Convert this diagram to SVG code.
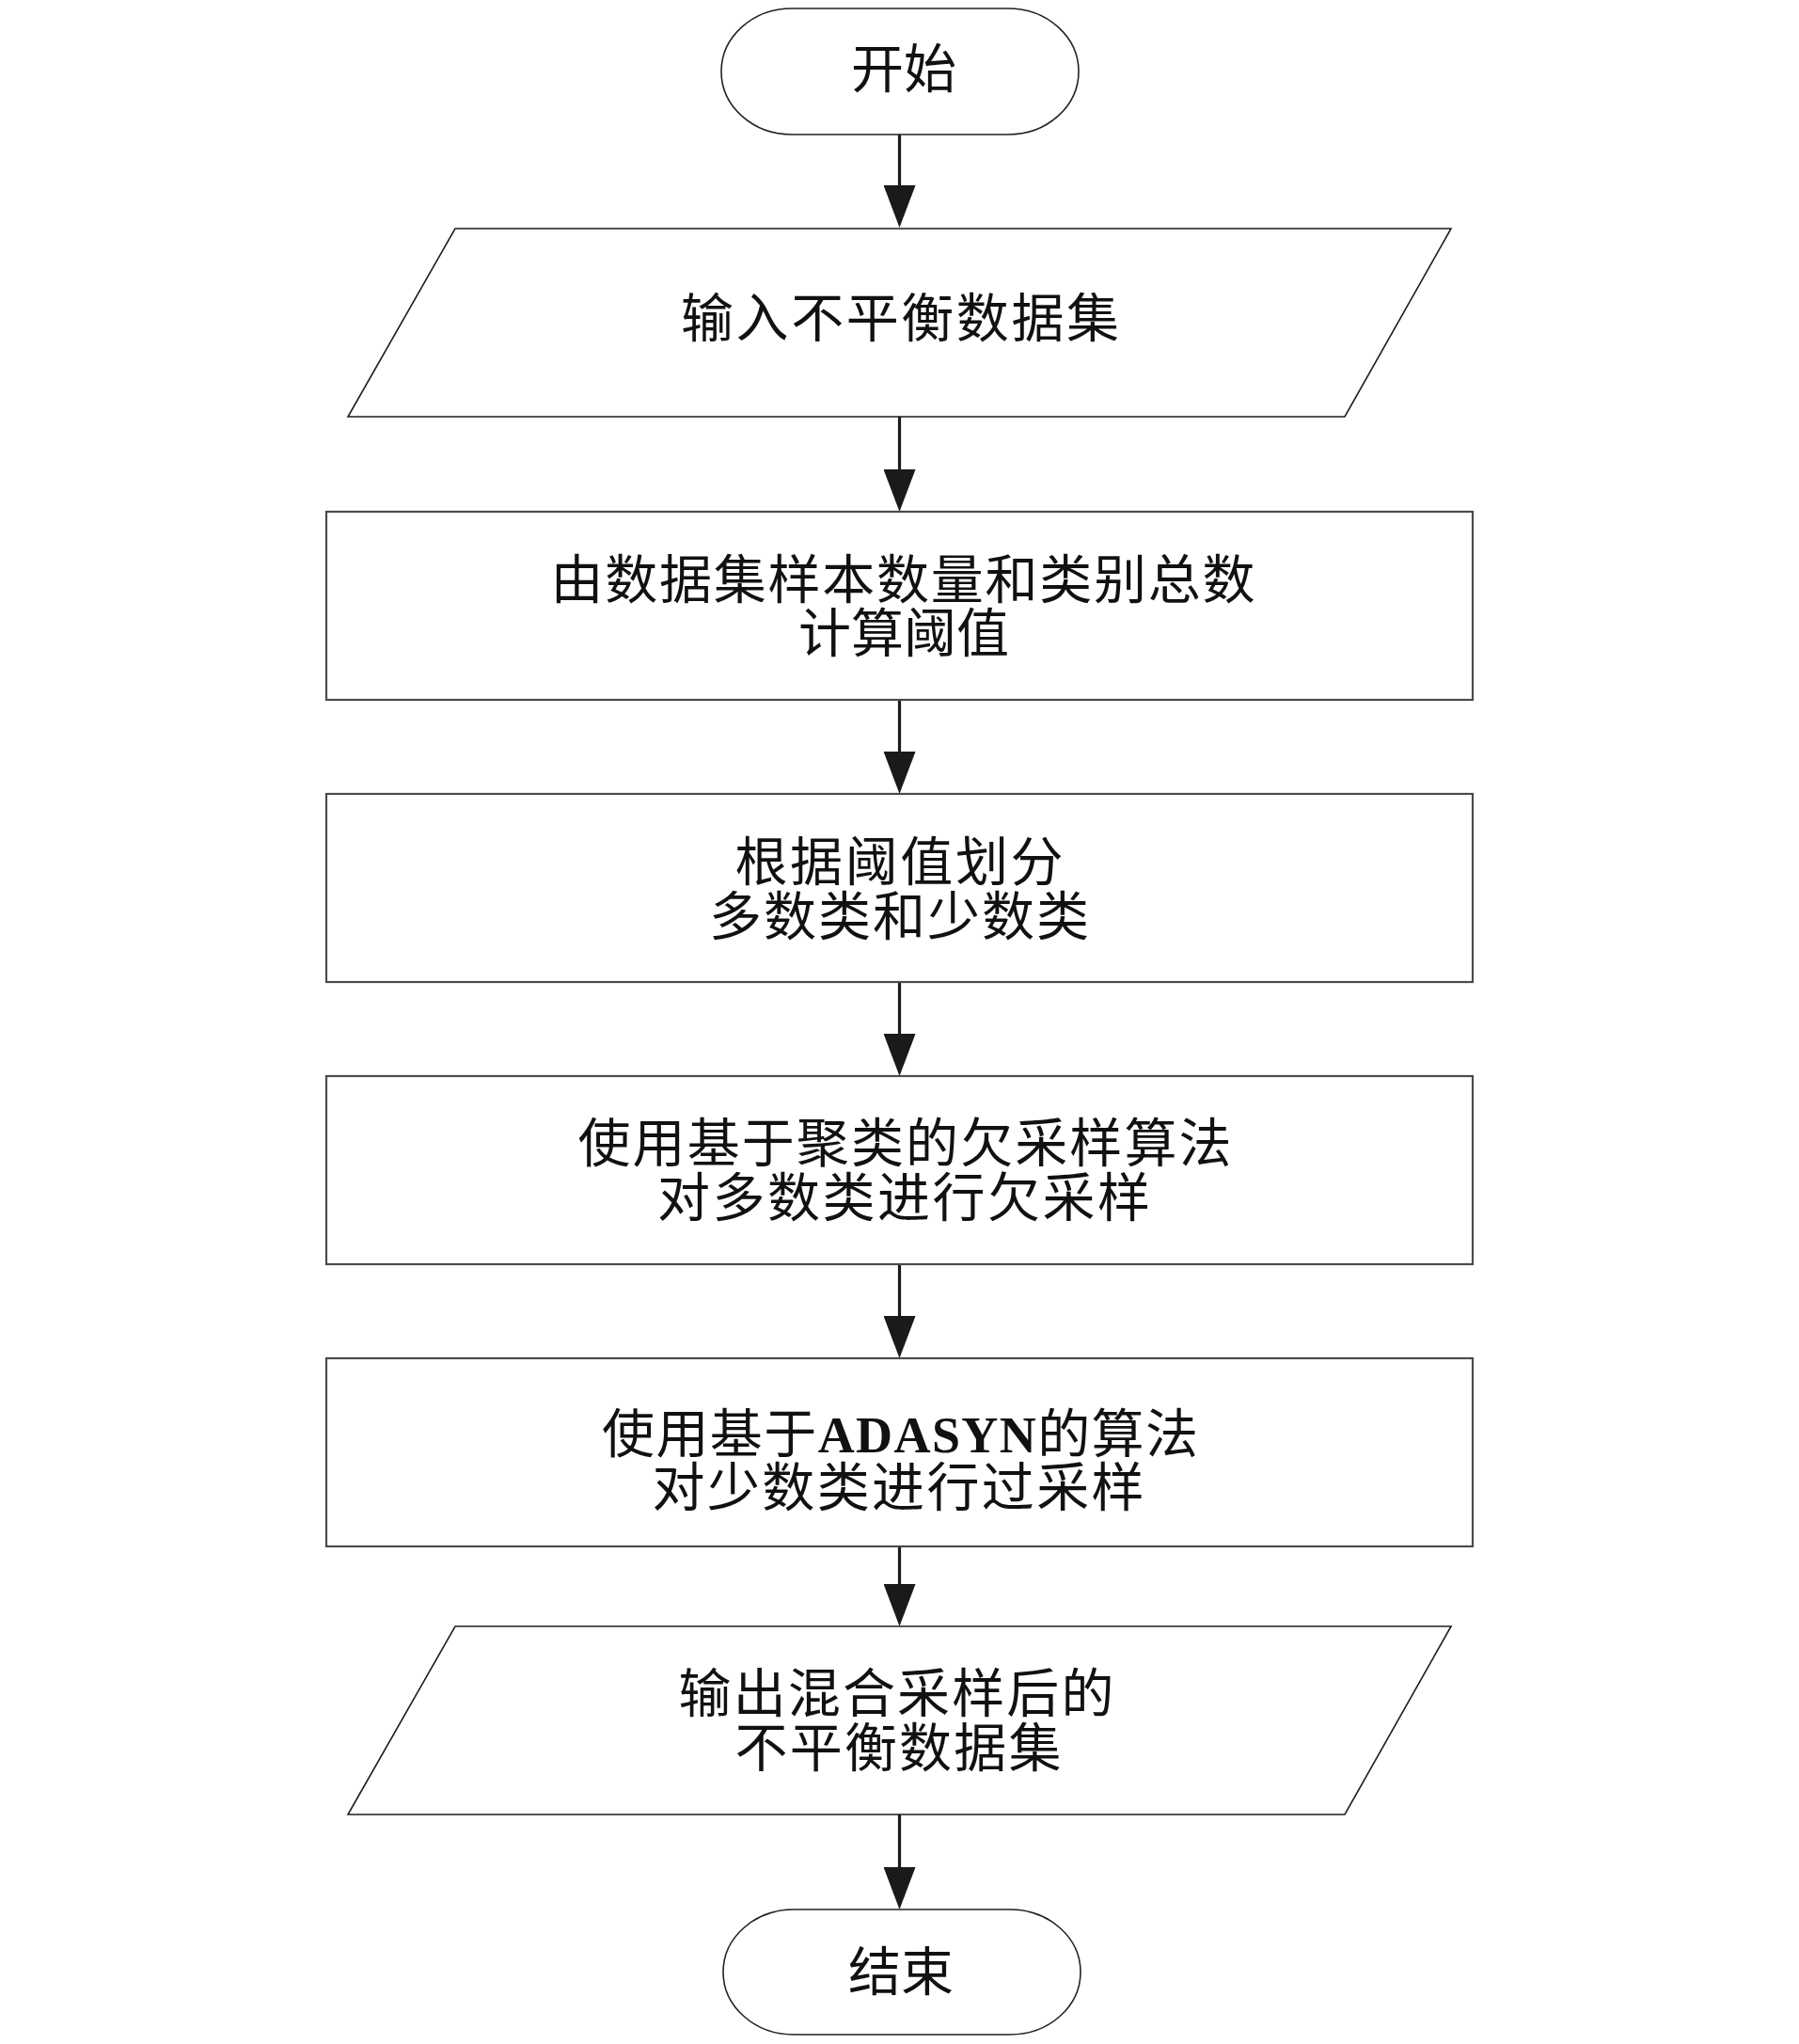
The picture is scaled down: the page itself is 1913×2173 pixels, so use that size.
<svg xmlns="http://www.w3.org/2000/svg" width="1913" height="2173" viewBox="0 0 1913 2173">
<style>
.bg{fill:#ffffff}
.term{fill:#ffffff;stroke:#222222;stroke-width:1.6}
.io{fill:#ffffff;stroke:#1e1e1e;stroke-width:1.6}
.proc{fill:#ffffff;stroke:#4f4a45;stroke-width:2.2}
.conn{stroke:#1a1a1a;stroke-width:3.2;fill:none;marker-end:url(#arrow)}
text{font-family:"Liberation Serif","Noto Sans CJK SC",serif;font-size:56px;fill:#111111;text-anchor:middle}
.latin{font-family:"Liberation Serif",serif;font-weight:bold;font-size:54px}
</style>
<defs>
<marker id="arrow" viewBox="0 0 45 34" refX="37" refY="17" markerWidth="45" markerHeight="34" markerUnits="userSpaceOnUse" orient="auto">
<path d="M0,0 L45,17 L0,34 Z" fill="#1a1a1a"/>
</marker>
</defs>
<rect class="bg" x="0" y="0" width="1913" height="2173"/>
<g id="connectors">
<line class="conn" x1="956.5" y1="143" x2="956.5" y2="234"/>
<line class="conn" x1="956.5" y1="443" x2="956.5" y2="536"/>
<line class="conn" x1="956.5" y1="744" x2="956.5" y2="836"/>
<line class="conn" x1="956.5" y1="1044" x2="956.5" y2="1136"/>
<line class="conn" x1="956.5" y1="1344" x2="956.5" y2="1436"/>
<line class="conn" x1="956.5" y1="1644" x2="956.5" y2="1721"/>
<line class="conn" x1="956.5" y1="1929" x2="956.5" y2="2022"/>
</g>
<g id="start">
<path class="term" d="M842,9 H1072 A75,67 0 0 1 1072,143 H842 A75,67 0 0 1 842,9 Z"/>
<text x="961" y="93">开始</text>
</g>
<g id="input">
<polygon class="io" points="484,243 1543,243 1430,443 370,443"/>
<text x="957" y="358" textLength="466" lengthAdjust="spacing">输入不平衡数据集</text>
</g>
<g id="threshold">
<rect class="proc" x="347" y="544" width="1219" height="200"/>
<text x="960" y="636" textLength="749" lengthAdjust="spacing">由数据集样本数量和类别总数</text>
<text x="961" y="693">计算阈值</text>
</g>
<g id="split">
<rect class="proc" x="347" y="844" width="1219" height="200"/>
<text x="956" y="936" textLength="349" lengthAdjust="spacing">根据阈值划分</text>
<text x="956" y="994" textLength="404" lengthAdjust="spacing">多数类和少数类</text>
</g>
<g id="undersample">
<rect class="proc" x="347" y="1144" width="1219" height="200"/>
<text x="962" y="1235" textLength="695" lengthAdjust="spacing">使用基于聚类的欠采样算法</text>
<text x="961" y="1293" textLength="524" lengthAdjust="spacing">对多数类进行欠采样</text>
</g>
<g id="oversample">
<rect class="proc" x="347" y="1444" width="1219" height="200"/>
<text x="957" y="1544" textLength="634" lengthAdjust="spacing">使用基于<tspan class="latin">ADASYN</tspan>的算法</text>
<text x="955" y="1601" textLength="523" lengthAdjust="spacing">对少数类进行过采样</text>
</g>
<g id="output">
<polygon class="io" points="484,1729 1543,1729 1430,1929 370,1929"/>
<text x="953" y="1820" textLength="463" lengthAdjust="spacing">输出混合采样后的</text>
<text x="955" y="1878" textLength="347" lengthAdjust="spacing">不平衡数据集</text>
</g>
<g id="end">
<path class="term" d="M844,2030 H1074 A75,66.5 0 0 1 1074,2163 H844 A75,66.5 0 0 1 844,2030 Z"/>
<text x="958" y="2116">结束</text>
</g>
</svg>
